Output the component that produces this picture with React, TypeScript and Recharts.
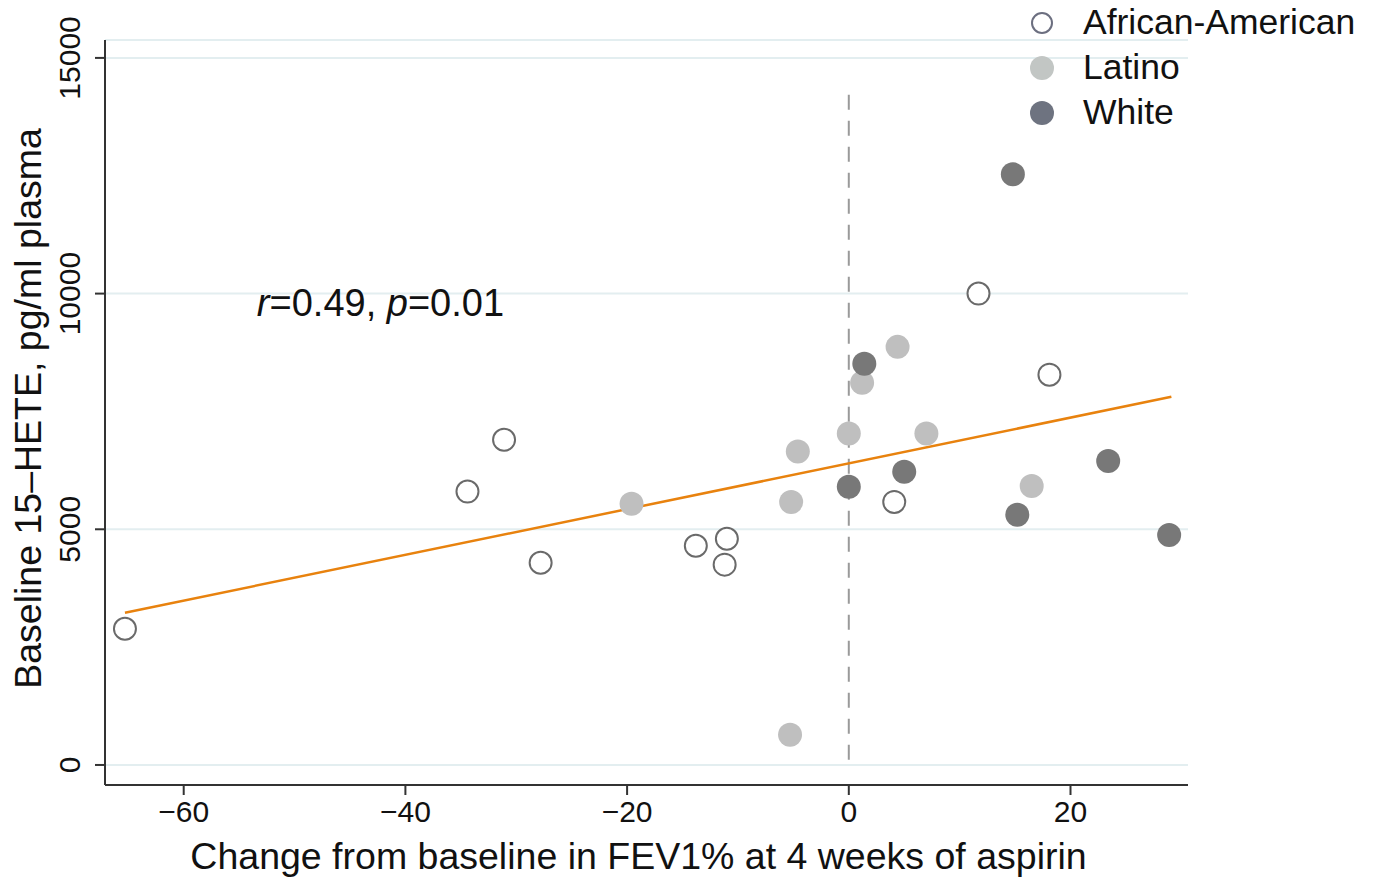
import React from 'react';
import {
  ComposedChart,
  Scatter,
  XAxis,
  YAxis,
  CartesianGrid,
  ReferenceLine,
  Legend,
  Label,
} from 'recharts';

const FONT = '"Liberation Sans", Arial, Helvetica, sans-serif';

// Data
const africanAmericanX = [-65.3, -34.4, -31.1, -27.8, -13.8, -11.0, -11.2, 4.1, 11.7, 18.1];
const africanAmericanY = [2890, 5800, 6900, 4290, 4650, 4800, 4250, 5580, 10000, 8280];
const latinoX = [-19.6, -5.3, -5.2, -4.6, 0.0, 1.2, 4.4, 7.0, 16.5];
const latinoY = [5540, 640, 5580, 6650, 7030, 8110, 8870, 7030, 5920];
const whiteX = [0.0, 1.4, 5.0, 14.8, 15.2, 23.4, 28.9];
const whiteY = [5900, 8510, 6220, 12530, 5310, 6450, 4880];
const fitX = [-65.3, 29.1];
const fitY = [3230, 7810];
const annotationX = [-53.4];
const annotationY = [9530];
const xTicks = [-60, -40, -20, 0, 20];
const yTicks = [0, 5000, 10000, 15000];
const xDomain = [-67.1, 30.6];
const yDomain = [-425, 15380];
const seriesNames = ['African-American', 'Latino', 'White'];

const zip = (xs: number[], ys: number[]) => xs.map((x, i) => ({ x, y: ys[i] }));

const aaData = zip(africanAmericanX, africanAmericanY);
const latinoData = zip(latinoX, latinoY);
const whiteData = zip(whiteX, whiteY);
const fitData = zip(fitX, fitY);
const annotationData = zip(annotationX, annotationY);

const legendStyle: Record<string, { fill: string; stroke: string }> = {
  'African-American': { fill: '#ffffff', stroke: '#6c6f80' },
  Latino: { fill: '#c2c6c4', stroke: '#c2c6c4' },
  White: { fill: '#6e7380', stroke: '#6e7380' },
};

const makeDot = (fill: string, stroke: string, sw: number) => (props: any) => {
  const { cx, cy } = props;
  if (cx == null || cy == null) return <g />;
  return <circle cx={cx} cy={cy} r={sw > 0 ? 11 : 12} fill={fill} stroke={stroke} strokeWidth={sw} />;
};

const YTick = (props: any) => {
  const { x, y, payload } = props;
  const tx = x - 13;
  return (
    <text
      x={tx}
      y={y}
      transform={`rotate(-90, ${tx}, ${y})`}
      textAnchor="middle"
      fontSize={30}
      fontFamily={FONT}
      fill="#111"
    >
      {payload.value}
    </text>
  );
};

const AnnotationShape = (props: any) => {
  const { cx, cy } = props;
  if (cx == null || cy == null) return <g />;
  return (
    <text x={cx} y={cy} fontSize={38} fontFamily={FONT} fill="#111">
      <tspan fontStyle="italic">r</tspan>
      <tspan>=0.49, </tspan>
      <tspan fontStyle="italic">p</tspan>
      <tspan>=0.01</tspan>
    </text>
  );
};

const LegendContent = (props: any) => {
  const items = (props.payload || []).filter((p: any) => seriesNames.includes(p.value));
  return (
    <div style={{ display: 'flex', flexDirection: 'column' }}>
      {items.map((p: any) => {
        const st = legendStyle[p.value];
        const open = p.value === 'African-American';
        return (
          <div key={p.value} style={{ display: 'flex', alignItems: 'center', height: 45 }}>
            <svg width={26} height={26} style={{ display: 'block' }}>
              <circle cx={13} cy={13} r={open ? 10 : 12} fill={st.fill} stroke={st.stroke} strokeWidth={open ? 2 : 0} />
            </svg>
            <span style={{ marginLeft: 28, fontFamily: FONT, fontSize: 35.5, color: '#111', lineHeight: '45px' }}>
              {p.value}
            </span>
          </div>
        );
      })}
    </div>
  );
};

export default function App() {
  return (
    <div style={{ position: 'absolute', left: 0, top: 0, width: 1376, height: 882, background: '#fff' }}>
      <ComposedChart
        width={1376}
        height={882}
        margin={{ top: 40, right: 188, bottom: 0, left: 0 }}
      >
        <CartesianGrid vertical={false} stroke="#e3eef0" strokeWidth={2} />
        <XAxis
          type="number"
          dataKey="x"
          domain={xDomain}
          ticks={xTicks}
          allowDataOverflow
          height={97}
          tickSize={10}
          tickMargin={6}
          tickFormatter={(v: number) => (v < 0 ? '\u2212' + Math.abs(v) : String(v))}
          tick={{ fontSize: 30, fontFamily: FONT, fill: '#111' }}
          axisLine={{ stroke: '#333', strokeWidth: 2 }}
          tickLine={{ stroke: '#333', strokeWidth: 2 }}
        >
          <Label
            value="Change from baseline in FEV1% at 4 weeks of aspirin"
            position="insideBottom"
            offset={13}
            dx={-8}
            style={{ fontSize: 37.5, fontFamily: FONT, fill: '#111' }}
          />
        </XAxis>
        <YAxis
          type="number"
          dataKey="y"
          domain={yDomain}
          ticks={yTicks}
          allowDataOverflow
          width={105}
          tickSize={10}
          tickMargin={2}
          tick={<YTick />}
          axisLine={{ stroke: '#333', strokeWidth: 2 }}
          tickLine={{ stroke: '#333', strokeWidth: 2 }}
        >
          <Label
            value="Baseline 15–HETE, pg/ml plasma"
            angle={-90}
            position="insideLeft"
            offset={28}
            dy={-4}
            style={{ fontSize: 37.5, fontFamily: FONT, fill: '#111', textAnchor: 'middle' }}
          />
        </YAxis>
        <ReferenceLine
          segment={[
            { x: 0, y: 14220 },
            { x: 0, y: -110 },
          ]}
          stroke="#9a9a9a"
          strokeWidth={2}
          strokeDasharray="15 11"
        />
        <Scatter
          name="fit"
          data={fitData}
          legendType="none"
          isAnimationActive={false}
          line={{ stroke: '#e8820e', strokeWidth: 2.5 }}
          shape={() => <g />}
        />
        <Scatter
          name="African-American"
          data={aaData}
          fill="#ffffff"
          isAnimationActive={false}
          shape={makeDot('#ffffff', '#6a6a6a', 2)}
        />
        <Scatter
          name="Latino"
          data={latinoData}
          fill="#bfbfbf"
          isAnimationActive={false}
          shape={makeDot('#bfbfbf', 'none', 0)}
        />
        <Scatter
          name="White"
          data={whiteData}
          fill="#787878"
          isAnimationActive={false}
          shape={makeDot('#787878', 'none', 0)}
        />
        <Scatter
          name="annotation"
          data={annotationData}
          legendType="none"
          isAnimationActive={false}
          shape={AnnotationShape}
        />
        <Legend
          layout="vertical"
          align="center"
          verticalAlign="middle"
          content={LegendContent}
          wrapperStyle={{ top: 0, left: 1029, width: 347 }}
        />
      </ComposedChart>
    </div>
  );
}
